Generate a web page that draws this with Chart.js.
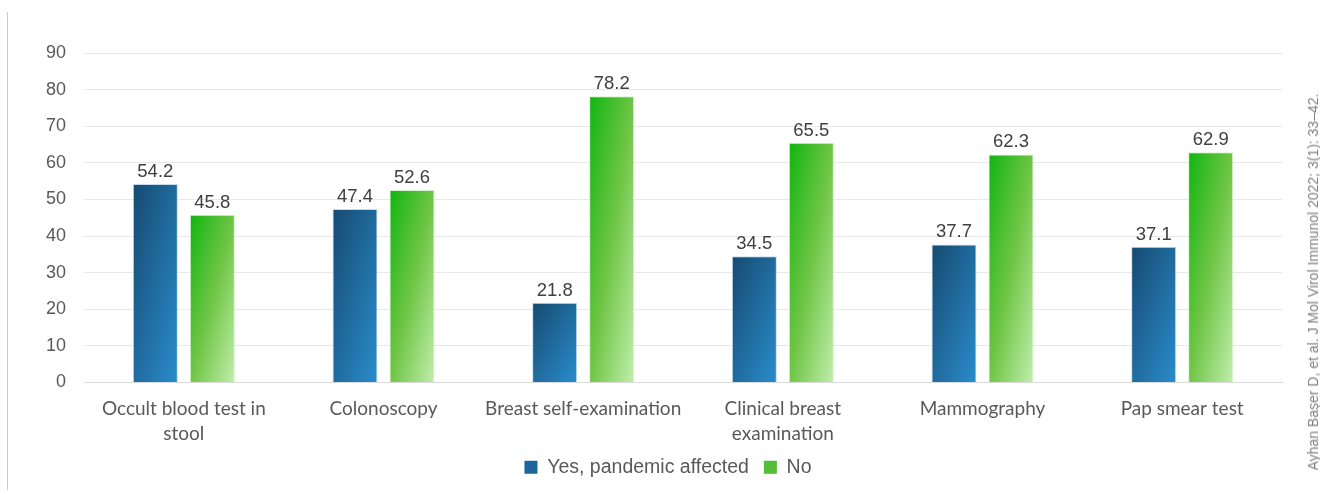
<!DOCTYPE html>
<html>
<head>
<meta charset="utf-8">
<script src="https://cdn.jsdelivr.net/npm/chart.js@4.4.1/dist/chart.umd.min.js"></script>
<style>
  html, body { margin: 0; padding: 0; background: #fff; }
  #wrap { position: relative; width: 1320px; height: 495px; overflow: hidden; }
  #wrap canvas { position: absolute; left: 0; top: 0; }
  #leftLine { position: absolute; left: 7px; top: 12px; width: 1px; height: 478px; background: #c8ccd0; }
  #source {
    position: absolute; left: 1313px; top: 282px;
    transform: translate(-50%, -50%) rotate(-90deg);
    white-space: nowrap; font-family: 'Liberation Sans', Arial, sans-serif;
    font-size: 14px; color: #808080;
  }
</style>
</head>
<body>
<div id="wrap">
  <div id="leftLine"></div>
  <canvas id="myChart" width="1320" height="495"></canvas>
  <div id="source">Ayhan Başer D, et al. J Mol Virol Immunol 2022; 3(1): 33–42.</div>
</div>
<script>
// chart data
var categories = [
    ['Occult blood test in', 'stool'],
    'Colonoscopy',
    'Breast self-examination',
    ['Clinical breast', 'examination'],
    'Mammography',
    'Pap smear test'
];
var yesValues = [54.2, 47.4, 21.8, 34.5, 37.7, 37.1];
var noValues = [45.8, 52.6, 78.2, 65.5, 62.3, 62.9];
var seriesNames = ['Yes, pandemic affected', 'No'];
var yTicks = [0, 10, 20, 30, 40, 50, 60, 70, 80, 90];
var legendColors = ['#1d669c', '#52bd35'];

// gradient per bar, dark corner top-left -> light corner bottom-right
function barGradient(stops, solid) {
    return function(ctx) {
        if (ctx.type !== 'data') return solid;
        var chart = ctx.chart;
        var xs = chart.scales.x, ys = chart.scales.y;
        if (!xs || !ys || !chart.chartArea) return solid;
        var slot = xs.width / categories.length;
        var bw = slot * 0.571 * 0.79 / 2;
        var off = (ctx.datasetIndex === 0 ? -1 : 1) * slot * 0.571 / 4;
        var cx = xs.getPixelForValue(ctx.dataIndex) + off;
        var left = cx - bw / 2, w = bw;
        var top = ys.getPixelForValue(ctx.raw), h = ys.getPixelForValue(0) - top;
        var k = 2 * w * h / (h * h + w * w);
        var g = chart.ctx.createLinearGradient(left, top, left + h * k, top + w * k);
        stops.forEach(function(s) { g.addColorStop(s[0], s[1]); });
        return g;
    };
}

var valueLabels = {
    id: 'valueLabels',
    afterDatasetsDraw: function(chart) {
        var c = chart.ctx;
        c.save();
        c.font = '18.5px "Liberation Sans", Arial, sans-serif';
        c.fillStyle = '#404040';
        c.textAlign = 'center';
        c.textBaseline = 'bottom';
        chart.data.datasets.forEach(function(ds, i) {
            chart.getDatasetMeta(i).data.forEach(function(bar, j) {
                c.fillText(ds.data[j].toFixed(1), bar.x, bar.y - 3);
            });
        });
        c.restore();
    }
};

// legend is centred under the plot area, not the whole canvas
var legendShift = {
    id: 'legendShift',
    afterLayout: function(chart) {
        if (chart.legend) chart.legend.left = 54;
    }
};

var ctx = document.getElementById('myChart').getContext('2d');
var chart = new Chart(ctx, {
    type: 'bar',
    data: {
        labels: categories,
        datasets: [{
            label: seriesNames[0],
            data: yesValues,
            backgroundColor: barGradient([[0, '#164a70'], [1, '#2a8ccc']], legendColors[0]),
            borderColor: 'rgba(170,205,230,0.7)',
            borderWidth: 1
        }, {
            label: seriesNames[1],
            data: noValues,
            backgroundColor: barGradient([[0, '#10b510'], [0.5, '#6fc545'], [1, '#c2eeae']], legendColors[1]),
            borderColor: 'rgba(200,240,185,0.7)',
            borderWidth: 1
        }]
    },
    options: {
        responsive: false,
        animation: false,
        categoryPercentage: 0.571,
        barPercentage: 0.79,
        layout: { padding: { left: 0, right: 38, top: 53, bottom: 8 } },
        plugins: {
            tooltip: { enabled: false },
            legend: {
                position: 'bottom',
                labels: {
                    boxWidth: 13, boxHeight: 13,
                    color: '#595959',
                    padding: 15,
                    font: { family: '"Liberation Sans", Arial, sans-serif', size: 19.5 },
                    generateLabels: function(chart) {
                        return chart.data.datasets.map(function(ds, i) {
                            return {
                                text: ds.label,
                                fillStyle: legendColors[i],
                                strokeStyle: legendColors[i],
                                lineWidth: 0,
                                fontColor: '#595959',
                                datasetIndex: i,
                                hidden: false
                            };
                        });
                    }
                }
            }
        },
        scales: {
            x: {
                grid: { display: false },
                border: { color: '#d9d9d9' },
                ticks: {
                    color: '#595959',
                    padding: 6,
                    maxRotation: 0,
                    autoSkip: false,
                    font: { family: 'Lato, "Open Sans", sans-serif', size: 19, lineHeight: 1.3 }
                },
                afterFit: function(s) { s.height = 60; }
            },
            y: {
                min: 0, max: 90,
                afterBuildTicks: function(s) { s.ticks = yTicks.map(function(v) { return { value: v }; }); },
                grid: { color: '#e8e8e8', drawTicks: false },
                border: { display: false },
                ticks: {
                    color: '#595959',
                    padding: 18,
                    font: { family: '"Liberation Sans", Arial, sans-serif', size: 18 }
                },
                afterFit: function(s) { s.width = 84; }
            }
        }
    },
    plugins: [valueLabels, legendShift]
});
</script>
</body>
</html>
